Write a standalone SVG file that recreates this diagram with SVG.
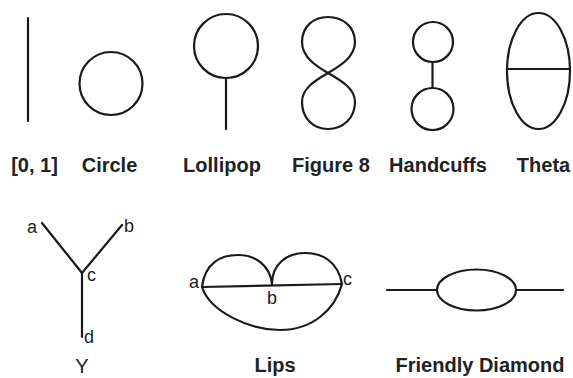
<svg xmlns="http://www.w3.org/2000/svg" width="573" height="378" viewBox="0 0 573 378">
<style>
.s{fill:none;stroke:#1a1a1a;stroke-width:2.2;stroke-linecap:round;stroke-linejoin:round}
.t{font-family:"Liberation Sans",Arial,sans-serif;font-size:20px;font-weight:bold;fill:#222;text-anchor:middle}
.v{font-family:"Liberation Sans",Arial,sans-serif;font-size:18px;fill:#222}
</style>
<rect width="573" height="378" fill="#fff"/>
<g id="interval">
<line class="s" x1="28" y1="18" x2="28" y2="121"/>
<text class="t" x="34.5" y="172">[0, 1]</text>
</g>
<g id="circle">
<circle class="s" cx="111" cy="83.5" r="31.5"/>
<text class="t" x="109.5" y="172">Circle</text>
</g>
<g id="lollipop">
<circle class="s" cx="226" cy="46" r="32"/>
<line class="s" x1="226" y1="78" x2="226" y2="129"/>
<text class="t" x="222" y="172">Lollipop</text>
</g>
<g id="figure8">
<path class="s" d="M328,73 C340,66 355,57 355,42 C355,27 343,17 328,17 C313,17 302,27 302,42 C302,57 316,66 328,73 C340,80 355,88 355,102 C355,118 343,129 328,129 C313,129 302,118 302,102 C302,88 316,80 328,73 Z"/>
<text class="t" x="331" y="172">Figure 8</text>
</g>
<g id="handcuffs">
<circle class="s" cx="433" cy="42" r="20"/>
<circle class="s" cx="432.5" cy="109" r="21"/>
<line class="s" x1="432.5" y1="62" x2="432.5" y2="88"/>
<text class="t" x="438" y="172">Handcuffs</text>
</g>
<g id="theta">
<ellipse class="s" cx="538.5" cy="71" rx="31.5" ry="58"/>
<line class="s" x1="507" y1="69" x2="570" y2="69"/>
<text class="t" x="543.5" y="172">Theta</text>
</g>
<g id="y">
<line class="s" x1="42" y1="223" x2="82" y2="273"/>
<line class="s" x1="82" y1="273" x2="122" y2="225"/>
<line class="s" x1="82" y1="273" x2="82" y2="337"/>
<text class="v" x="27" y="233">a</text>
<text class="v" x="124" y="232">b</text>
<text class="v" x="87" y="281">c</text>
<text class="v" x="84" y="343">d</text>
<text class="t" x="82" y="373" style="font-weight:normal">Y</text>
</g>
<g id="lips">
<path class="s" d="M202,287 C205,262 222,255 238,255 C255,255 270,265 272,284"/>
<path class="s" d="M272,284 C272,264 287,253 305,253 C323,253 338,262 342,284"/>
<path class="s" d="M202,287 C210,312 250,330 280,330 C312,330 335,310 342,284"/>
<line class="s" x1="202" y1="287" x2="342" y2="284"/>
<text class="v" x="189" y="288">a</text>
<text class="v" x="267" y="304">b</text>
<text class="v" x="343" y="285">c</text>
<text class="t" x="275" y="372">Lips</text>
</g>
<g id="friendly-diamond">
<line class="s" x1="387" y1="290" x2="437" y2="290"/>
<ellipse class="s" cx="476.5" cy="290" rx="39.5" ry="20.5"/>
<line class="s" x1="516" y1="290" x2="563" y2="290"/>
<text class="t" x="480" y="372">Friendly Diamond</text>
</g>
</svg>
